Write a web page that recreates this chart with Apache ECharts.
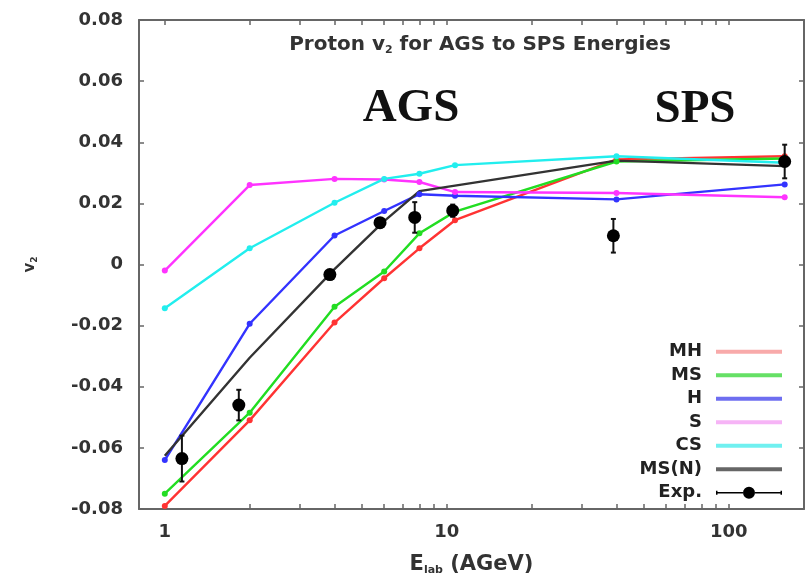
<!DOCTYPE html>
<html>
<head>
<meta charset="utf-8">
<script src="https://cdn.jsdelivr.net/npm/echarts@6/dist/echarts.min.js"></script>
<style>
  html, body { margin: 0; padding: 0; background: #fff; }
  #chart { width: 807px; height: 581px; }
</style>
</head>
<body>
<div id="chart"></div>
<script>
// beam energies (AGeV) of the model points
const energy = [1, 2, 4, 6, 8, 10.7, 40, 158]
// proton v2 per model
const vMH  = [-0.079, -0.051, -0.019, -0.0045, 0.0053, 0.0145, 0.0344, 0.0354]
const vMS  = [-0.075, -0.0485, -0.0138, -0.0023, 0.0102, 0.0173, 0.0337, 0.0347]
const vH   = [-0.064, -0.0194, 0.0095, 0.0175, 0.023, 0.0225, 0.0213, 0.0262]
const vS   = [-0.002, 0.026, 0.028, 0.0278, 0.027, 0.0237, 0.0234, 0.022]
const vCS  = [-0.0143, 0.0053, 0.0202, 0.028, 0.0297, 0.0325, 0.0354, 0.0333]
const vMSN = [-0.0626, -0.0305, -0.0015, 0.0142, 0.024, 0.0258, 0.034, 0.0322]

// experimental data
const expE   = [1.15, 1.83, 3.85, 5.8, 7.7, 10.5, 39, 158]
const expV   = [-0.0635, -0.046, -0.0033, 0.0137, 0.0154, 0.0176, 0.0094, 0.0337]
const expErr = [0.0075, 0.005, 0.0015, 0.0015, 0.005, 0.002, 0.0055, 0.0055]

// axis ticks
const xMajor = [1, 10, 100]
const xTicks = [1, 2, 3, 4, 5, 6, 7, 8, 9, 10, 20, 30, 40, 50, 60, 70, 80, 90, 100]

const FONT = 'DejaVu Sans'
const frame = '#666'

const chart = echarts.init(document.getElementById('chart'))

function pairs(ys) {
  return energy.map((e, i) => [e, ys[i]])
}

function lineSeries(name, ys, color, showDots) {
  return {
    name,
    type: 'line',
    data: pairs(ys),
    symbol: showDots ? 'circle' : 'none',
    symbolSize: 6,
    lineStyle: { color, width: 2.4 },
    itemStyle: { color },
    animation: false
  }
}

const xCommon = {
  type: 'log',
  logBase: 10,
  min: 0.81,
  max: 185,
  splitLine: { show: false },
  axisLine: { show: true, onZero: false, lineStyle: { color: frame, width: 2 } },
  axisTick: { show: true, inside: true, length: 5, customValues: xTicks, lineStyle: { color: frame, width: 1.5 } }
}

const yCommon = {
  type: 'value',
  min: -0.08,
  max: 0.08,
  interval: 0.02,
  splitLine: { show: false },
  axisLine: { show: true, onZero: false, lineStyle: { color: frame, width: 2 } },
  axisTick: { show: true, inside: true, length: 5, lineStyle: { color: frame, width: 1.5 } }
}

// Exp. legend icon: line with caps and a dot in the middle
const expIcon = 'path://M0,4L1.5,4L1.5,5.3L27,5.3L27,6.7L1.5,6.7L1.5,8L0,8Z' +
  'M39,5.3L64.5,5.3L64.5,4L66,4L66,8L64.5,8L64.5,6.7L39,6.7Z' +
  'M27,6A6,6 0 1,1 39,6A6,6 0 1,1 27,6Z'

chart.setOption({
  animation: false,
  backgroundColor: '#fff',
  grid: { left: 139, right: 3, top: 20, bottom: 70 },
  xAxis: [
    {
      ...xCommon,
      position: 'bottom',
      name: 'E{sub|lab} (AGeV)',
      nameLocation: 'middle',
      nameGap: 44,
      nameTextStyle: {
        fontFamily: FONT, fontWeight: 'bold', fontSize: 21, color: '#333',
        rich: { sub: { fontFamily: FONT, fontWeight: 'bold', fontSize: 11, color: '#333', verticalAlign: 'bottom', padding: [12, 0, 0, 0] } }
      },
      axisLabel: {
        customValues: xMajor,
        margin: 14,
        fontFamily: FONT, fontWeight: 'bold', fontSize: 18, color: '#333'
      }
    },
    {
      ...xCommon,
      position: 'top',
      axisLabel: { show: false }
    }
  ],
  yAxis: [
    {
      ...yCommon,
      position: 'left',
      name: 'v{sub|2}',
      nameLocation: 'middle',
      nameRotate: 90,
      nameGap: 100,
      nameTextStyle: {
        fontFamily: FONT, fontWeight: 'bold', fontSize: 15, color: '#333',
        rich: { sub: { fontFamily: FONT, fontWeight: 'bold', fontSize: 9, color: '#333', verticalAlign: 'bottom', padding: [8, 0, 0, 0] } }
      },
      axisLabel: {
        margin: 16,
        fontFamily: FONT, fontWeight: 'bold', fontSize: 18, color: '#333',
        formatter: v => Math.abs(v) < 1e-9 ? '0' : v.toFixed(2)
      }
    },
    {
      ...yCommon,
      position: 'right',
      axisLabel: { show: false }
    }
  ],
  legend: [
    {
      data: [
        { name: 'MH', itemStyle: { color: '#f8aaaa' } },
        { name: 'MS', itemStyle: { color: '#66e066' } },
        { name: 'H', itemStyle: { color: '#6e6ef0' } },
        { name: 'S', itemStyle: { color: '#f6b4f6' } },
        { name: 'CS', itemStyle: { color: '#70f0f0' } },
        { name: 'MS(N)', itemStyle: { color: '#666' } }
      ],
      orient: 'vertical',
      align: 'right',
      right: 25,
      top: 341.7,
      padding: 0,
      icon: 'rect',
      itemWidth: 66,
      itemHeight: 4,
      itemGap: 3.5,
      selectedMode: false,
      textStyle: { fontFamily: FONT, fontWeight: 'bold', fontSize: 18, color: '#222', lineHeight: 20, padding: [0, 9, 0, 0] }
    },
    {
      data: [{ name: 'Exp.', icon: expIcon, itemStyle: { color: '#000' } }],
      orient: 'vertical',
      align: 'right',
      right: 25,
      top: 482.7,
      padding: 0,
      itemWidth: 66,
      itemHeight: 12,
      selectedMode: false,
      textStyle: { fontFamily: FONT, fontWeight: 'bold', fontSize: 18, color: '#222', lineHeight: 20, padding: [0, 9, 0, 0] }
    }
  ],
  graphic: [
    {
      type: 'text',
      x: 480, y: 45,
      style: {
        text: 'Proton v{sub|2} for AGS to SPS Energies',
        font: 'bold 20px "DejaVu Sans"',
        fill: '#333',
        align: 'center',
        verticalAlign: 'middle',
        rich: { sub: { fontFamily: FONT, fontWeight: 'bold', fontSize: 11, fill: '#333', verticalAlign: 'bottom', padding: [10, 0, 0, 0] } }
      }
    },
    {
      type: 'text',
      x: 411, y: 109,
      style: { text: 'AGS', font: 'bold 47px "Liberation Serif"', fill: '#111', align: 'center', verticalAlign: 'middle' }
    },
    {
      type: 'text',
      x: 695, y: 110,
      style: { text: 'SPS', font: 'bold 47px "Liberation Serif"', fill: '#111', align: 'center', verticalAlign: 'middle' }
    }
  ],
  series: [
    lineSeries('MH', vMH, '#ff3333', true),
    lineSeries('MS', vMS, '#22dd22', true),
    lineSeries('H', vH, '#3333ff', true),
    lineSeries('S', vS, '#ff33ff', true),
    lineSeries('CS', vCS, '#22eeee', true),
    lineSeries('MS(N)', vMSN, '#333', false),
    {
      name: 'Exp.',
      type: 'custom',
      data: expE.map((e, i) => [e, expV[i], expErr[i]]),
      encode: { x: 0, y: 1 },
      itemStyle: { color: '#000' },
      z: 5,
      renderItem(params, api) {
        const x = api.value(0)
        const y = api.value(1)
        const err = api.value(2)
        const hi = api.coord([x, y + err])
        const lo = api.coord([x, y - err])
        const cap = 2.5
        const st = { stroke: '#111', lineWidth: 2 }
        return {
          type: 'group',
          children: [
            { type: 'line', shape: { x1: hi[0], y1: hi[1], x2: lo[0], y2: lo[1] }, style: st },
            { type: 'line', shape: { x1: hi[0] - cap, y1: hi[1], x2: hi[0] + cap, y2: hi[1] }, style: st },
            { type: 'line', shape: { x1: lo[0] - cap, y1: lo[1], x2: lo[0] + cap, y2: lo[1] }, style: st }
          ]
        }
      }
    },
    {
      name: 'Exp.',
      type: 'scatter',
      data: expE.map((e, i) => [e, expV[i]]),
      symbol: 'circle',
      symbolSize: 13,
      itemStyle: { color: '#000', opacity: 1 },
      z: 6
    }
  ]
})
</script>
</body>
</html>
